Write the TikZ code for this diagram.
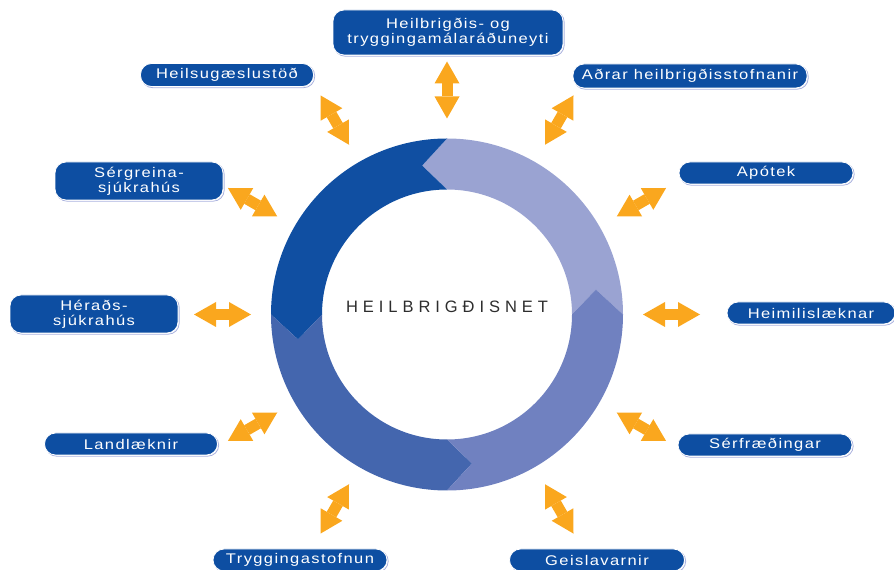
\documentclass[tikz,border=0pt]{standalone}
\usepackage{fontspec}
\usepackage{tikz}
\usetikzlibrary{arrows.meta}
\newfontfamily\boxfont[FakeStretch=1.18, LetterSpace=10]{Liberation Sans}
\newfontfamily\netfont[LetterSpace=30]{Liberation Sans}
\definecolor{col1}{RGB}{13,78,162}
\definecolor{col2}{RGB}{170,178,222}
\definecolor{col3}{RGB}{154,163,210}
\definecolor{col4}{RGB}{16,79,162}
\definecolor{col5}{RGB}{68,102,174}
\definecolor{col6}{RGB}{112,129,192}
\definecolor{col7}{RGB}{250,167,30}
\definecolor{col8}{RGB}{45,45,45}
\tikzstyle{box}=[fill=col1, draw=white, line width=0.8pt, rounded corners=11pt, inner sep=0pt, text=white, align=center, font=\boxfont\fontsize{14}{15}\selectfont, preaction={draw=col2, line width=0.8pt, transform canvas={shift={(1.2pt,-1.2pt)}}}]
\tikzstyle{biarrow}=[color=col7, line width=11pt, {Triangle[width=25pt,length=22pt,line width=0pt]}-{Triangle[width=25pt,length=22pt,line width=0pt]}]
\begin{document}
\begin{tikzpicture}[x=1pt,y=1pt]
		    \useasboundingbox (0,0) rectangle (894,570);
		    \coordinate (ctr) at (447,255.5);
		    % ring
		    \fill[col3] ([shift={(0:176)}]ctr) arc[start angle=0, end angle=90, radius=176] -- ([shift={(99.5:151)}]ctr) -- ([shift={(90:125)}]ctr) arc[start angle=90, end angle=0, radius=125] -- ([shift={(9.5:151)}]ctr) -- cycle;
		    \fill[col4] ([shift={(90:176)}]ctr) arc[start angle=90, end angle=180, radius=176] -- ([shift={(189.5:151)}]ctr) -- ([shift={(180:125)}]ctr) arc[start angle=180, end angle=90, radius=125] -- ([shift={(99.5:151)}]ctr) -- cycle;
		    \fill[col5] ([shift={(180:176)}]ctr) arc[start angle=180, end angle=270, radius=176] -- ([shift={(279.5:151)}]ctr) -- ([shift={(270:125)}]ctr) arc[start angle=270, end angle=180, radius=125] -- ([shift={(189.5:151)}]ctr) -- cycle;
		    \fill[col6] ([shift={(270:176)}]ctr) arc[start angle=270, end angle=360, radius=176] -- ([shift={(369.5:151)}]ctr) -- ([shift={(360:125)}]ctr) arc[start angle=360, end angle=270, radius=125] -- ([shift={(279.5:151)}]ctr) -- cycle;
		    \node[text=col8, font=\netfont\fontsize{16.5}{18}\selectfont] (net) at (447,263) {HEILBRIGÐISNET};
		    % boxes
		    \node[box, minimum width=230, minimum height=45] (min) at (448,537.5) {Heilbrigðis- og\\tryggingamálaráðuneyti};
		    \node[box, minimum width=173, minimum height=23] (heilsu) at (227,495) {Heilsugæslustöð};
		    \node[box, minimum width=234, minimum height=24] (adrar) at (690,494) {Aðrar heilbrigðisstofnanir};
		    \node[box, minimum width=168, minimum height=38] (sergr) at (139,389) {Sérgreina-\\sjúkrahús};
		    \node[box, minimum width=174, minimum height=22] (apotek) at (766,397) {Apótek};
		    \node[box, minimum width=168, minimum height=38] (herads) at (94,256) {Héraðs-\\sjúkrahús};
		    \node[box, minimum width=168, minimum height=22] (heimil) at (811,257) {Heimilislæknar};
		    \node[box, minimum width=173, minimum height=22] (landl) at (131,126) {Landlæknir};
		    \node[box, minimum width=174, minimum height=22] (serfr) at (765,125) {Sérfræðingar};
		    \node[box, minimum width=174, minimum height=22] (trygg) at (300,10) {Tryggingastofnun};
		    \node[box, minimum width=175, minimum height=22] (geisl) at (597,10) {Geislavarnir};
		    % arrow ends
		    \coordinate (a0) at ([shift={(0:196)}]ctr);     \coordinate (b0) at ([shift={(0:253)}]ctr);
		    \coordinate (a30) at ([shift={(30:196)}]ctr);   \coordinate (b30) at ([shift={(30:253)}]ctr);
		    \coordinate (a60) at ([shift={(60:196)}]ctr);   \coordinate (b60) at ([shift={(60:253)}]ctr);
		    \coordinate (a90) at ([shift={(90:196)}]ctr);   \coordinate (b90) at ([shift={(90:253)}]ctr);
		    \coordinate (a120) at ([shift={(120:196)}]ctr); \coordinate (b120) at ([shift={(120:253)}]ctr);
		    \coordinate (a150) at ([shift={(150:196)}]ctr); \coordinate (b150) at ([shift={(150:253)}]ctr);
		    \coordinate (a180) at ([shift={(180:196)}]ctr); \coordinate (b180) at ([shift={(180:253)}]ctr);
		    \coordinate (a210) at ([shift={(210:196)}]ctr); \coordinate (b210) at ([shift={(210:253)}]ctr);
		    \coordinate (a240) at ([shift={(240:196)}]ctr); \coordinate (b240) at ([shift={(240:253)}]ctr);
		    \coordinate (a300) at ([shift={(300:196)}]ctr); \coordinate (b300) at ([shift={(300:253)}]ctr);
		    \coordinate (a330) at ([shift={(330:196)}]ctr); \coordinate (b330) at ([shift={(330:253)}]ctr);
		    \path[biarrow]
		    (a0) edge (b0)
		    (a30) edge (b30)
		    (a60) edge (b60)
		    (a90) edge (b90)
		    (a120) edge (b120)
		    (a150) edge (b150)
		    (a180) edge (b180)
		    (a210) edge (b210)
		    (a240) edge (b240)
		    (a300) edge (b300)
		    (a330) edge (b330);
		\end{tikzpicture}
\end{document}
